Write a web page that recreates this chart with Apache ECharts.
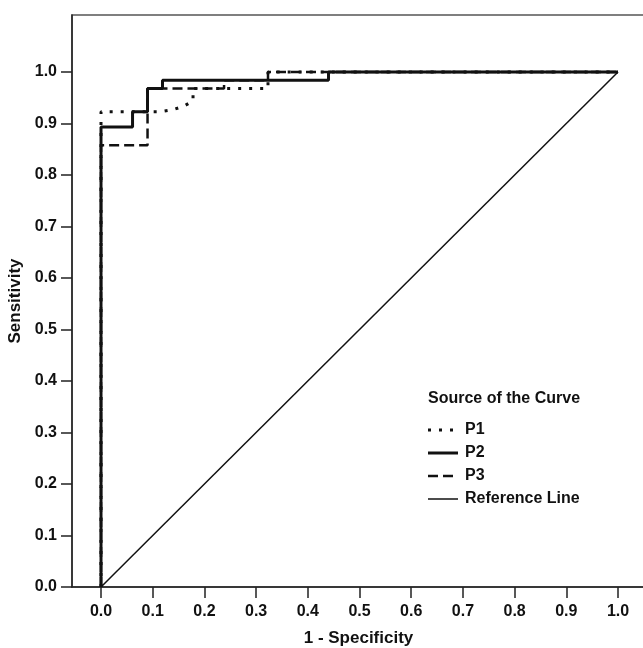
<!DOCTYPE html>
<html>
<head>
<meta charset="utf-8">
<script src="https://cdn.jsdelivr.net/npm/echarts@6/dist/echarts.min.js"></script>
<style>
html,body{margin:0;padding:0;background:#fff;}
#chart{width:643px;height:648px;}
</style>
</head>
<body>
<div id="chart"></div>
<script>
// ROC curve vertices (1 - Specificity, Sensitivity)
var p1X = [0, 0, 0.116, 0.140, 0.161, 0.178, 0.178, 0.323, 0.323, 1];
var p1Y = [0, 0.923, 0.923, 0.927, 0.934, 0.944, 0.968, 0.968, 1, 1];
var p2X = [0, 0, 0.061, 0.061, 0.090, 0.090, 0.119, 0.119, 0.440, 0.440, 1];
var p2Y = [0, 0.893, 0.893, 0.923, 0.923, 0.968, 0.968, 0.984, 0.984, 1, 1];
var p3X = [0, 0, 0.090, 0.090, 0.238, 0.238, 0.323, 0.323, 1];
var p3Y = [0, 0.858, 0.858, 0.968, 0.968, 0.984, 0.984, 1, 1];
var refX = [0, 1];
var refY = [0, 1];
var tickValues = [0, 0.1, 0.2, 0.3, 0.4, 0.5, 0.6, 0.7, 0.8, 0.9, 1.0];
var seriesNames = ['P1', 'P2', 'P3', 'Reference Line'];
var legendTitle = 'Source of the Curve';
var xTitle = '1 - Specificity';
var yTitle = 'Sensitivity';

function pairs(xs, ys) { return xs.map(function (x, i) { return [x, ys[i]]; }); }

var chart = echarts.init(document.getElementById('chart'), null, {renderer: 'canvas'});
var font = 'Liberation Sans, Arial, sans-serif';
var axisCol = '#222';
var txtCol = '#111';

var lineStyles = {
  'P1': {color: txtCol, width: 3, type: [3, 8]},
  'P2': {color: txtCol, width: 3, type: 'solid'},
  'P3': {color: txtCol, width: 2.5, type: [10, 5]},
  'Reference Line': {color: txtCol, width: 1.5, type: 'solid'}
};

// legend built from graphic elements (real text)
var legendGraphics = [{
  type: 'text', left: 428, top: 391,
  style: {text: legendTitle, font: 'bold 16px Liberation Sans, Arial, sans-serif', fill: txtCol}
}];
seriesNames.forEach(function (name, i) {
  var cy = 430 + i * 23;
  var ls = lineStyles[name];
  legendGraphics.push({
    type: 'line', shape: {x1: 428, y1: cy, x2: 458, y2: cy},
    style: {stroke: ls.color, lineWidth: ls.width, lineDash: ls.type === 'solid' ? null : ls.type}
  });
  legendGraphics.push({
    type: 'text', x: 465, y: cy,
    style: {text: name, font: 'bold 16px Liberation Sans, Arial, sans-serif', fill: txtCol, textVerticalAlign: 'middle', verticalAlign: 'middle'}
  });
});

chart.setOption({
  animation: false,
  backgroundColor: '#fff',
  grid: {
    left: 72, right: -2, top: 15, bottom: 61,
    show: true, borderColor: '#555', borderWidth: 1.5,
    containLabel: false, outerBoundsMode: 'none'
  },
  xAxis: {
    type: 'value', min: -0.0561, max: 1.0522,
    name: xTitle, nameLocation: 'middle', nameGap: 43,
    nameTextStyle: {fontFamily: font, fontWeight: 'bold', fontSize: 17, color: txtCol},
    axisLine: {onZero: false, lineStyle: {color: axisCol, width: 1.5}},
    axisTick: {show: true, length: 11, customValues: tickValues, lineStyle: {color: axisCol, width: 1.5}},
    axisLabel: {customValues: tickValues, margin: 17, fontFamily: font, fontWeight: 'bold', fontSize: 16, color: txtCol,
      formatter: function (v) { return v.toFixed(1); }},
    splitLine: {show: false}
  },
  yAxis: {
    type: 'value', min: 0, max: 1.1107,
    name: yTitle, nameLocation: 'middle', nameGap: 38, nameRotate: 90,
    nameTextStyle: {fontFamily: font, fontWeight: 'bold', fontSize: 17, color: txtCol},
    axisLine: {show: true, onZero: false, lineStyle: {color: axisCol, width: 1.5}},
    axisTick: {show: true, length: 11, customValues: tickValues, lineStyle: {color: axisCol, width: 1.5}},
    axisLabel: {customValues: tickValues, margin: 15, fontFamily: font, fontWeight: 'bold', fontSize: 16, color: txtCol,
      formatter: function (v) { return v.toFixed(1); }},
    splitLine: {show: false}
  },
  graphic: legendGraphics,
  series: [
    {name: 'Reference Line', type: 'line', data: pairs(refX, refY), symbol: 'none', z: 1,
      lineStyle: lineStyles['Reference Line']},
    {name: 'P3', type: 'line', data: pairs(p3X, p3Y), symbol: 'none', z: 2,
      lineStyle: lineStyles['P3']},
    {name: 'P1', type: 'line', data: pairs(p1X, p1Y), symbol: 'none', z: 3,
      lineStyle: lineStyles['P1']},
    {name: 'P2', type: 'line', data: pairs(p2X, p2Y), symbol: 'none', z: 4,
      lineStyle: lineStyles['P2']}
  ]
});
</script>
</body>
</html>
